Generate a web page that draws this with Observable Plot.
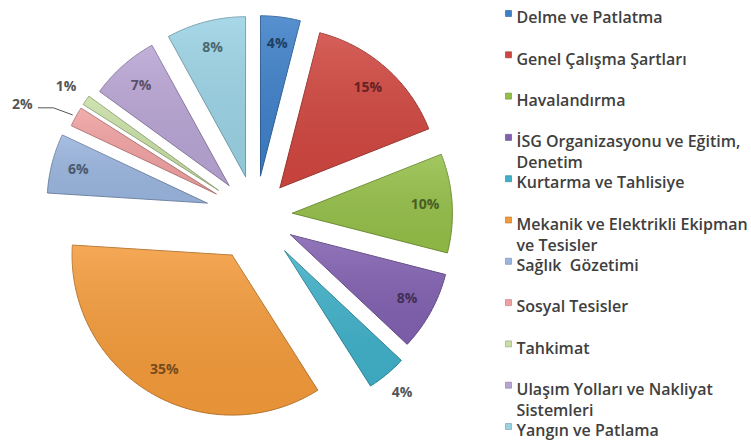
<!DOCTYPE html>
<html><head><meta charset="utf-8">
<script src="https://cdn.jsdelivr.net/npm/d3@7"></script>
<script src="https://cdn.jsdelivr.net/npm/@observablehq/plot@0.6"></script>
<style>body{margin:0;background:#fff;} #chart svg{display:block;}</style>
</head><body><div id="chart"></div>
<script>
// ---- data ----
const categories = ["Delme ve Patlatma","Genel Çalışma Şartları","Havalandırma","İSG Organizasyonu ve Eğitim, Denetim","Kurtarma ve Tahlisiye","Mekanik ve Elektrikli Ekipman ve Tesisler","Sağlık  Gözetimi","Sosyal Tesisler","Tahkimat","Ulaşım Yolları ve Nakliyat Sistemleri","Yangın ve Patlama"];
const values = [4, 15, 10, 8, 4, 35, 6, 2, 1, 7, 8];
const legendLabels = ["Delme ve Patlatma","Genel Çalışma Şartları","Havalandırma","İSG Organizasyonu ve Eğitim,\nDenetim","Kurtarma ve Tahlisiye","Mekanik ve Elektrikli Ekipman\nve Tesisler","Sağlık  Gözetimi","Sosyal Tesisler","Tahkimat","Ulaşım Yolları ve Nakliyat\nSistemleri","Yangın ve Patlama"];
const colors = ["#3d7fc8","#d0463f","#94bf48","#8160b0","#3fb0c8","#f39a3a","#9ab5de","#f0a0a0","#c7dfa5","#b8a4d4","#9ad2e4"];
const outsideLabels = ["Kurtarma ve Tahlisiye","Sosyal Tesisler","Tahkimat"];

// ---- layout ----
const W = 751, H = 443;
const cx = 255, cy = 215, R = 160;
const explode = [40, 37, 37, 40, 46, 46, 50, 45, 45, 40, 40];

const arcs = d3.pie().sort(null).value(d => d)(values);
const slices = arcs.map((a, i) => {
  const mid = (a.startAngle + a.endAngle) / 2;
  return {i, name: categories[i], value: values[i], a0: a.startAngle, a1: a.endAngle, mid,
    ox: cx + explode[i] * Math.sin(mid), oy: cy - explode[i] * Math.cos(mid)};
});
const pts = slices.flatMap(s => {
  const n = Math.max(2, Math.ceil((s.a1 - s.a0) / 0.01));
  const arr = [{x: s.ox, y: s.oy}];
  for (let k = 0; k <= n; k++) {
    const a = s.a0 + (s.a1 - s.a0) * k / n;
    arr.push({x: s.ox + R * Math.sin(a), y: s.oy - R * Math.cos(a)});
  }
  arr.push({x: s.ox, y: s.oy});
  return arr.map(p => ({...p, i: s.i, name: s.name}));
});
const labels = slices.map(s => {
  const out = outsideLabels.includes(s.name);
  const r = out ? R + 24 : 133;
  return {...s, out, x: s.ox + r * Math.sin(s.mid), y: s.oy - r * Math.cos(s.mid), text: s.value + "%"};
});
const leader = [];
labels.filter(l => l.name === "Sosyal Tesisler").forEach(l => {
  const ex = l.ox + (R + 4) * Math.sin(l.mid), ey = l.oy - (R + 4) * Math.cos(l.mid);
  l.x = ex - 50; l.y = ey - 10;
  leader.push({x: l.x + 16, y: l.y + 3}, {x: l.x + 31, y: l.y + 3}, {x: ex, y: ey});
});
const legend = categories.map((c, i) => ({i, text: legendLabels[i], y: 8 + 41.3 * i}));

const chart = Plot.plot({
  width: W, height: H, margin: 0,
  x: {type: "identity", axis: null}, y: {type: "identity", axis: null}, color: {type: "identity"},
  style: {fontFamily: "'Open Sans', sans-serif", background: "#fff"},
  marks: [
    Plot.line(pts, {x: "x", y: "y", z: "name", fill: d => colors[d.i], stroke: d => d3.color(colors[d.i]).darker(0.8).formatHex(), strokeWidth: 1, strokeLinejoin: "round"}),
    Plot.line(pts, {x: "x", y: "y", z: "name", fill: "url(#shine)", stroke: "none"}),
    Plot.line(leader, {x: "x", y: "y", stroke: "#555", strokeWidth: 1}),
    Plot.text(labels, {x: "x", y: "y", text: "text", fontSize: 14, fontWeight: "bold",
      fill: d => d.out ? "#555" : d3.color(colors[d.i]).darker(2).formatHex()}),
    Plot.dot(legend, {x: 508, y: d => d.y + 5, symbol: "square", r: 3.4, fill: d => colors[d.i], stroke: d => d3.color(colors[d.i]).darker(0.8).formatHex(), strokeWidth: 0.6}),
    Plot.text(legend, {x: 516, y: "y", text: "text", textAnchor: "start", lineAnchor: "top", fontSize: 16, fontWeight: 600, lineHeight: 1.3, fill: "#404040"})
  ]
});
const defs = d3.create("svg:defs");
const g = defs.append("linearGradient").attr("id", "shine").attr("x1", 0).attr("y1", 0).attr("x2", 0).attr("y2", 1);
g.append("stop").attr("offset", "0%").attr("stop-color", "#fff").attr("stop-opacity", 0.14);
g.append("stop").attr("offset", "100%").attr("stop-color", "#000").attr("stop-opacity", 0.05);
chart.insertBefore(defs.node(), chart.firstChild);
document.getElementById("chart").append(chart);
</script></body></html>
